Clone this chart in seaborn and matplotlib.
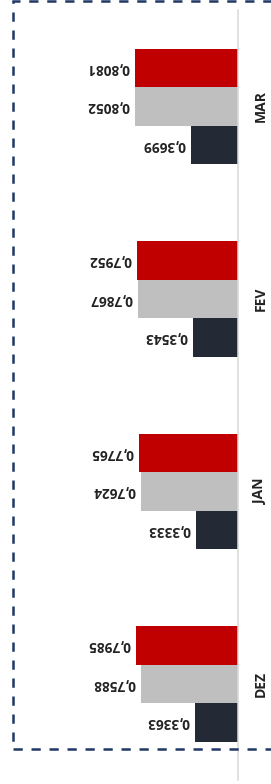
import matplotlib
matplotlib.use('Agg')
import matplotlib.pyplot as plt
import seaborn as sns
import pandas as pd
from matplotlib.patches import Rectangle

# ---- data ----
meses = ['MAR', 'FEV', 'JAN', 'DEZ']
serie_vermelha = [0.8081, 0.7952, 0.7765, 0.7985]
serie_cinza = [0.8052, 0.7867, 0.7624, 0.7588]
serie_escura = [0.3699, 0.3543, 0.3333, 0.3363]
series = ['Série 1', 'Série 2', 'Série 3']
cores = ['#C00000', '#BFBFBF', '#232A35']

valores = [serie_vermelha, serie_cinza, serie_escura]
df = pd.DataFrame({
    'mes': meses * 3,
    'valor': serie_vermelha + serie_cinza + serie_escura,
    'serie': [s for s in series for _ in meses],
})

FONTE = ['Open Sans', 'DejaVu Sans']

W, H = 271, 784
fig = plt.figure(figsize=(W / 100, H / 100), dpi=100)
ax = fig.add_axes([20 / W, 4 / H, 218 / W, 770 / H])

sns.barplot(data=df, x='valor', y='mes', hue='serie', order=meses,
            hue_order=series, palette=cores, orient='h', width=0.6,
            saturation=1, legend=False, errorbar=None, ax=ax)

ax.set_xlim(218 / 127.5, 0)
ax.set_xlabel('')
ax.set_ylabel('')
ax.set_xticks([])
for s in ['top', 'left', 'bottom']:
    ax.spines[s].set_visible(False)
ax.spines['right'].set_color('#D9D9D9')
ax.spines['right'].set_linewidth(1.1)
ax.yaxis.tick_right()
ax.tick_params(axis='y', length=0, pad=11)
ax.set_yticks(range(len(meses)))
ax.set_yticklabels(meses, rotation=90, va='center', fontweight='bold',
                   fontsize=10, family=FONTE, color='#222222')

for cont, vals in zip(ax.containers, valores):
    for bar, v in zip(cont, vals):
        ax.annotate(f"{v:.4f}".replace('.', ','),
                    xy=(bar.get_width(), bar.get_y() + bar.get_height() / 2),
                    xytext=(-5.5, 0), textcoords='offset pixels',
                    ha='right', va='center', rotation=180,
                    fontweight='bold', fontsize=9.8, family=FONTE,
                    color='#222222')

# dashed frame
fig.add_artist(Rectangle((12.5 / W, (H - 749.3) / H), (320 - 12.5) / W, (749.3 - 1.3) / H,
                         transform=fig.transFigure, fill=False,
                         edgecolor='#1F3864', lw=1.8,
                         linestyle=(0, (3.7, 3.5)), clip_on=False))

fig.savefig('out.png', dpi=100)
